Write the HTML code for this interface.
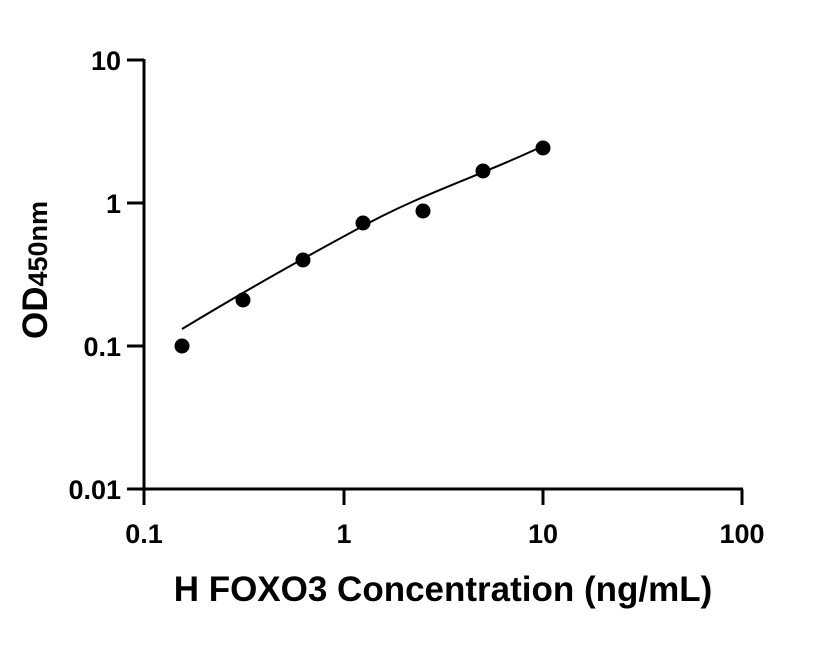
<!DOCTYPE html>
<html><head><style>body{margin:0;background:#fff}</style></head><body>
<svg width="816" height="640" xmlns="http://www.w3.org/2000/svg" font-family="Liberation Sans, sans-serif" font-weight="bold">
<g stroke="#000" stroke-width="3" fill="none">
<line x1="144" y1="59" x2="144" y2="505"/>
<line x1="127" y1="489" x2="743" y2="489"/>
<line x1="127" y1="60" x2="144" y2="60"/>
<line x1="127" y1="203" x2="144" y2="203"/>
<line x1="127" y1="346" x2="144" y2="346"/>
<line x1="344" y1="489" x2="344" y2="505"/>
<line x1="543" y1="489" x2="543" y2="505"/>
<line x1="742" y1="489" x2="742" y2="505"/>
</g>
<path d="M182,329 C250,288 300,260 363,226 S480,176 543,146" stroke="#000" stroke-width="2" fill="none"/>
<g fill="#000">
<circle cx="182" cy="346" r="7.5"/><circle cx="243" cy="300" r="7.5"/>
<circle cx="303" cy="260" r="7.5"/><circle cx="363" cy="223" r="7.5"/>
<circle cx="423" cy="211" r="7.5"/><circle cx="483" cy="171" r="7.5"/>
<circle cx="543" cy="148" r="7.5"/>
</g>
<g font-size="27" text-anchor="end">
<text x="121" y="70">10</text><text x="121" y="213">1</text>
<text x="121" y="356">0.1</text><text x="121" y="499">0.01</text>
</g>
<g font-size="27" text-anchor="middle">
<text x="144" y="543">0.1</text><text x="344" y="543">1</text>
<text x="543" y="543">10</text><text x="742" y="543">100</text>
</g>
<text x="443" y="601" font-size="35" text-anchor="middle">H FOXO3 Concentration (ng/mL)</text>
<text transform="translate(47,270) rotate(-90)" font-size="35" text-anchor="middle">OD<tspan font-size="27">450nm</tspan></text>
</svg>
</body></html>
